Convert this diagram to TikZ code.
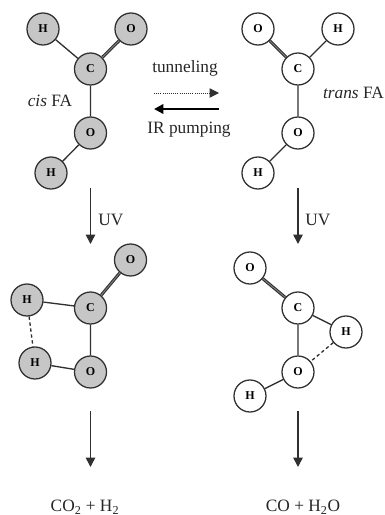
\documentclass[tikz,border=0pt]{standalone}
\usepackage{fontspec}
\setmainfont{Liberation Serif}
\usetikzlibrary{arrows.meta}
\definecolor{atomgray}{HTML}{C6C6C6}
\definecolor{bondgray}{HTML}{303030}
\begin{document}
\begin{tikzpicture}[x=0.75pt,y=-0.75pt,>={Triangle[length=7pt,width=7pt]},line cap=butt,line join=miter]
	\tikzset{atom/.style={circle,draw=bondgray,line width=.95pt,minimum size=24pt,inner sep=0pt,font=\fontsize{9}{10}\selectfont\bfseries},
		cisatom/.style={atom,fill=atomgray},
		transatom/.style={atom,fill=white},
		bond/.style={draw=bondgray,line width=1pt},
		dbond/.style={draw=bondgray,line width=.8pt,double=gray,double distance=.7pt},
		hbond/.style={draw=bondgray,line width=1pt,dash pattern=on 2.5pt off 2pt},
		step arrow/.style={->,draw=bondgray,fill=black,line width=1.1pt},
		lbl/.style={font=\fontsize{13}{15}\selectfont,inner sep=0pt,text=black!85}}
	\useasboundingbox (0,0) rectangle (385,515);
	% cis FA
	\node[cisatom] (cH1) at (43,29) {H};
	\node[cisatom] (cO1) at (131,29) {O};
	\node[cisatom] (cC) at (90.5,69) {C};
	\node[cisatom] (cO2) at (90.5,133) {O};
	\node[cisatom] (cH2) at (51,173) {H};
	\draw[bond] (cH1)--(cC) (cC)--(cO2) (cO2)--(cH2);
	\draw[dbond] (cC)--(cO1);
	\node[lbl] (cisname) at (50,101) {\textit{cis} FA};
	% trans FA
	\node[transatom] (tO1) at (258,29) {O};
	\node[transatom] (tH1) at (338,29) {H};
	\node[transatom] (tC) at (298,69) {C};
	\node[transatom] (tO2) at (298,133) {O};
	\node[transatom] (tH2) at (258,173) {H};
	\draw[bond] (tH1)--(tC) (tC)--(tO2) (tO2)--(tH2);
	\draw[dbond] (tC)--(tO1);
	\node[lbl] (transname) at (353.5,93) {\textit{trans} FA};
	% between the two
	\node[lbl] (tunnel) at (185,68) {tunneling};
	\node[lbl] (pump) at (189,130) {IR pumping};
	\coordinate (tunnelA) at (154,93);
	\coordinate (tunnelB) at (219,93);
	\coordinate (pumpA) at (219,109);
	\coordinate (pumpB) at (154,109);
	\draw[->,draw=bondgray,line width=.6pt,densely dotted] (tunnelA)--(tunnelB);
	\draw[->,black,line width=1.7pt] (pumpA)--(pumpB);
	% UV step
	\coordinate (cUVa) at (90.5,188);
	\coordinate (cUVb) at (90.5,244);
	\coordinate (tUVa) at (298,188);
	\coordinate (tUVb) at (298,244);
	\draw[step arrow] (cUVa)--(cUVb);
	\draw[step arrow] (tUVa)--(tUVb);
	\node[lbl] (cUV) at (111,220) {UV};
	\node[lbl] (tUV) at (318,220) {UV};
	% cis after UV
	\node[cisatom] (dO1) at (130.5,260) {O};
	\node[cisatom] (dC) at (90.5,308) {C};
	\node[cisatom] (dH1) at (27,300) {H};
	\node[cisatom] (dH2) at (35,363) {H};
	\node[cisatom] (dO2) at (90.5,372) {O};
	\draw[bond] (dH1)--(dC) (dC)--(dO2) (dO2)--(dH2);
	\draw[dbond] (dC)--(dO1);
	\draw[hbond] (dH1)--(dH2);
	% trans after UV
	\node[transatom] (sO1) at (250,268) {O};
	\node[transatom] (sC) at (298,308) {C};
	\node[transatom] (sH1) at (346,332) {H};
	\node[transatom] (sO2) at (298,372) {O};
	\node[transatom] (sH2) at (250,396) {H};
	\draw[bond] (sH1)--(sC) (sC)--(sO2) (sO2)--(sH2);
	\draw[dbond] (sC)--(sO1);
	\draw[hbond] (sH1)--(sO2);
	% products
	\coordinate (cEnda) at (90.5,411);
	\coordinate (cEndb) at (90.5,467);
	\coordinate (tEnda) at (298,411);
	\coordinate (tEndb) at (298,467);
	\draw[step arrow] (cEnda)--(cEndb);
	\draw[step arrow] (tEnda)--(tEndb);
	\node[lbl] (cprod) at (85,507) {CO\textsubscript{2} + H\textsubscript{2}};
	\node[lbl] (tprod) at (303,507) {CO + H\textsubscript{2}O};
\end{tikzpicture}
\end{document}
